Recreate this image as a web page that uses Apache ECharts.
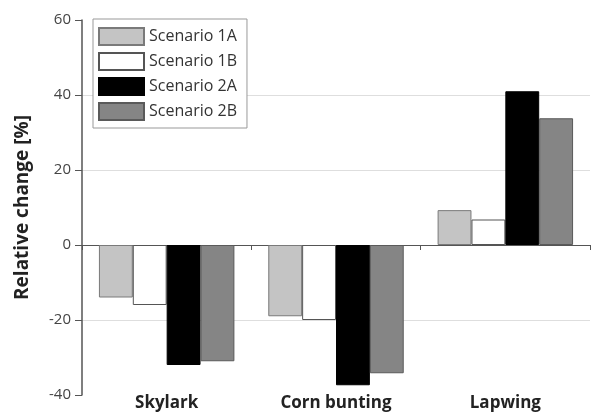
<!DOCTYPE html>
<html><head><meta charset="utf-8">
<script src="https://cdn.jsdelivr.net/npm/echarts@6/dist/echarts.min.js"></script>
<style>html,body{margin:0;padding:0;background:#fff}#c{width:591px;height:412px}</style>
</head><body><div id="c"></div>
<script>
const categories = ["Skylark", "Corn bunting", "Lapwing"];
const scenario1A = [-14, -19, 9.3];
const scenario1B = [-16, -20, 6.8];
const scenario2A = [-32, -37.4, 41];
const scenario2B = [-31, -34.2, 33.8];
const yTicks = [-40, -20, 0, 20, 40, 60];

const FONT = '"Open Sans", "Noto Sans", sans-serif';
const chart = echarts.init(document.getElementById('c'), null, {renderer: 'canvas'});
function bar(name, data, color, border) {
  return {
    name, type: 'bar', data, xAxisIndex: 0,
    barGap: '0%', barCategoryGap: '20%',
    itemStyle: {color, borderColor: border, borderWidth: 1},
    emphasis: {disabled: true}
  };
}
chart.setOption({
  animation: false,
  textStyle: {fontFamily: FONT},
  grid: {left: 82, right: 1, top: 20, bottom: 17, containLabel: false},
  legend: {
    orient: 'vertical', left: 93, top: 19,
    padding: [8, 10, 7, 5],
    itemWidth: 45, itemHeight: 17, itemGap: 6,
    borderColor: '#999', borderWidth: 1, backgroundColor: '#fff',
    textStyle: {fontSize: 16, color: '#333', fontFamily: FONT},
    icon: 'rect',
    data: ['Scenario 1A', 'Scenario 1B', 'Scenario 2A', 'Scenario 2B']
  },
  xAxis: [
    {
      type: 'category', data: categories,
      axisLine: {onZero: true, lineStyle: {color: '#555', width: 1}},
      axisTick: {show: true, length: 5, inside: false, lineStyle: {color: '#555'}},
      axisLabel: {show: false},
      splitLine: {show: false}
    },
    {
      type: 'category', data: categories, position: 'bottom',
      axisLine: {show: false}, axisTick: {show: false},
      axisLabel: {show: true, fontSize: 17, fontWeight: 'bold', color: '#222', margin: 0, fontFamily: FONT},
      splitLine: {show: false}
    }
  ],
  yAxis: {
    type: 'value', min: yTicks[0], max: yTicks[yTicks.length - 1], interval: 20,
    name: 'Relative change [%]', nameLocation: 'middle', nameGap: 50,
    nameTextStyle: {fontSize: 19, fontWeight: 'bold', color: '#222', fontFamily: FONT},
    axisLine: {show: true, lineStyle: {color: '#555', width: 1.5}},
    axisTick: {show: true, length: 7, lineStyle: {color: '#555'}},
    axisLabel: {fontSize: 15, color: '#444', margin: 11, fontFamily: FONT},
    splitLine: {show: true, showMinLine: false, showMaxLine: false, lineStyle: {color: '#dedede', width: 1}}
  },
  series: [
    bar('Scenario 1A', scenario1A, '#c4c4c4', '#7a7a7a'),
    bar('Scenario 1B', scenario1B, '#ffffff', '#555555'),
    bar('Scenario 2A', scenario2A, '#000000', '#000000'),
    bar('Scenario 2B', scenario2B, '#858585', '#5a5a5a')
  ]
});
</script></body></html>
